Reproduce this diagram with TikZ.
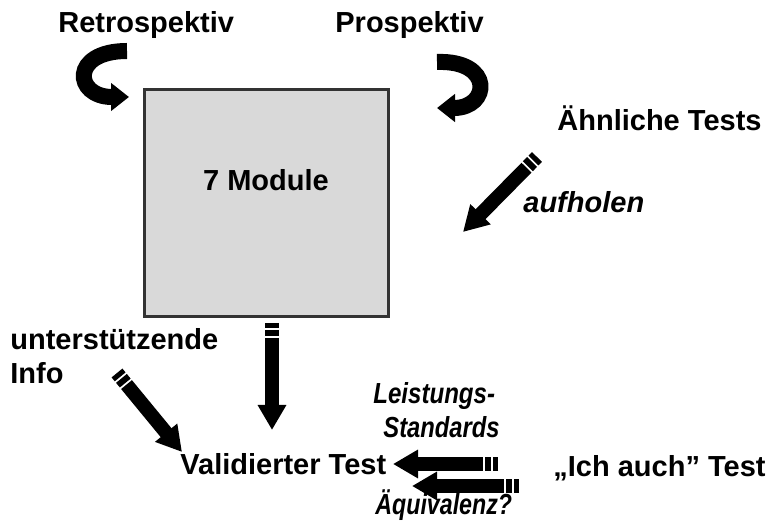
\documentclass[tikz,border=0pt]{standalone}
\usepackage{graphicx}
\usepackage{fontspec}
\setmainfont{Liberation Sans}
\usetikzlibrary{arrows.meta,calc}
\definecolor{boxgray}{HTML}{D9D9D9}
\definecolor{boxedge}{HTML}{333333}
% striped block arrow from #1 (tail) to #2 (tip)
\newcommand{\stripedarrow}[2]{%
    \draw[shaft] (#1) -- ($(#1)!2.5pt!(#2)$);
    \draw[shaft] ($(#1)!3.5pt!(#2)$) -- ($(#1)!6.5pt!(#2)$);
    \draw[shaft, -{Triangle[width=13.5pt,length=12.5pt]}] ($(#1)!7.5pt!(#2)$) -- (#2);}
% narrow italic text
\newcommand{\narrowtext}[2]{\scalebox{#1}[1]{#2}}

\begin{document}
\begin{tikzpicture}[x=0.5pt, y=-0.5pt,
    lbl/.style={inner sep=0pt, anchor=base west, font=\fontsize{14.5}{17}\selectfont\bfseries},
    ilbl/.style={lbl, font=\fontsize{14.5}{17}\selectfont\bfseries\itshape},
    modbox/.style={draw=boxedge, fill=boxgray, line width=1.5pt, minimum width=122pt, minimum height=113.5pt, inner sep=0pt},
    bandarrow/.style={line width=8pt, -{Triangle[width=13.5pt,length=9pt]}},
    shaft/.style={line width=7pt}]
    \useasboundingbox (0,0) rectangle (766,523);
    % the box of modules
    \node[modbox] (modules) at (266.5,203) {};
    \node[lbl, anchor=base] (modtext) at (266,191) {7 Module};
    % labels round the box
    \node[lbl] (retro) at (58,33) {Retrospektiv};
    \node[lbl] (prosp) at (335,33) {Prospektiv};
    \node[lbl] (similar) at (557,131) {Ähnliche Tests};
    \node[ilbl] (catchup) at (523,213) {aufholen};
    \node[lbl] (support1) at (10,350) {unterstützende};
    \node[lbl] (support2) at (10,384) {Info};
    \node[ilbl] (standards1) at (373,404) {\narrowtext{0.83}{Leistungs-}};
    \node[ilbl] (standards2) at (383,438) {\narrowtext{0.82}{Standards}};
    \node[lbl] (validated) at (180,475) {Validierter Test};
    \node[lbl] (metoo) at (553,477) {„Ich auch” Test};
    \node[ilbl] (equiv) at (375,515) {\narrowtext{0.8}{Äquivalenz?}};
    % end points of the arrows
    \coordinate (retroTail) at (127,51);   \coordinate (retroTip) at (129,97);
    \coordinate (prospTail) at (437,62);   \coordinate (prospTip) at (437,108);
    \coordinate (catchTail) at (537,157);  \coordinate (catchTip) at (463,232);
    \coordinate (downTail) at (272,323);   \coordinate (downTip) at (272,430);
    \coordinate (suppTail) at (117,373);   \coordinate (suppTip) at (182,452);
    \coordinate (stdTail) at (498,464);    \coordinate (stdTip) at (393,464);
    \coordinate (equivTail) at (519,486);  \coordinate (equivTip) at (412,486);
    % curved arrows
    \draw[bandarrow] (retroTail) .. controls (70,51) and (74,97) .. (retroTip);
    \draw[bandarrow] (prospTail) .. controls (494,60) and (490,108) .. (prospTip);
    % striped arrows
    \stripedarrow{catchTail}{catchTip}
    \stripedarrow{downTail}{downTip}
    \stripedarrow{suppTail}{suppTip}
    \stripedarrow{stdTail}{stdTip}
    \stripedarrow{equivTail}{equivTip}
\end{tikzpicture}
\end{document}
